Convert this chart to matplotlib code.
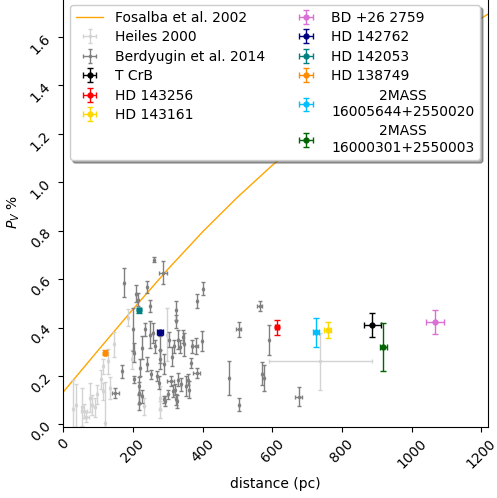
import numpy as np
from matplotlib import pyplot as plt

# Fosalba et al. 2002 relation, read along distance
fos_d = [0, 100, 200, 300, 400, 500, 600, 700, 800, 900, 1000, 1100, 1230]
fos_p = [0.133, 0.305, 0.475, 0.64, 0.795, 0.938, 1.07, 1.192, 1.306, 1.406,
         1.501, 1.591, 1.704]

# Heiles 2000 catalogue stars
heiles_d = [27, 38, 53, 60, 67, 77, 83, 91, 98, 110, 115, 120, 134, 113, 146,
            128, 185, 198, 232, 278, 278, 299, 738]
heiles_p = [0.062, 0.078, 0.072, 0.055, 0.03, 0.11, 0.08, 0.07, 0.124, 0.186,
            0.137, 0.005, 0.15, 0.24, 0.33, 0.26, 0.44, 0.268, 0.075, 0.062,
            0.11, 0.371, 0.26]
heiles_ed = [0, 0, 0, 8, 8, 0, 0, 0, 0, 0, 0, 0, 0, 0, 0, 0, 0, 0, 0, 0, 0, 0, 147]
heiles_ep = [0.12, 0.087, 0.079, 0.03, 0.02, 0.06, 0.04, 0.04, 0.04, 0.04,
             0.035, 0.17, 0.045, 0.03, 0.05, 0.05, 0.035, 0.04, 0.035, 0.035,
             0.05, 0.11, 0.118]

# Berdyugin et al. 2014 stars
berd_d = [261, 287, 175, 242, 210, 215, 249, 400, 385, 324, 323, 201, 235, 249,
          259, 226, 263, 278, 319, 330, 335, 345, 347, 369, 380, 397, 203, 220,
          168, 203, 150, 217, 225, 218, 251, 268, 278, 275, 288, 292, 302, 309,
          321, 327, 330, 337, 352, 359, 368, 383, 504, 504, 476, 564, 590, 570,
          577, 676, 290, 316, 325, 361, 240, 218, 305, 313]
berd_p = [0.68, 0.626, 0.584, 0.568, 0.54, 0.515, 0.49, 0.56, 0.508, 0.471,
          0.426, 0.392, 0.392, 0.371, 0.378, 0.316, 0.323, 0.309, 0.323, 0.35,
          0.32, 0.362, 0.33, 0.323, 0.323, 0.344, 0.296, 0.234, 0.22, 0.186,
          0.13, 0.13, 0.117, 0.09, 0.206, 0.2, 0.268, 0.172, 0.25, 0.096, 0.124,
          0.179, 0.144, 0.096, 0.185, 0.165, 0.158, 0.185, 0.254, 0.213, 0.392,
          0.082, 0.19, 0.488, 0.35, 0.21, 0.193, 0.115, 0.103, 0.137, 0.103,
          0.144, 0.25, 0.16, 0.35, 0.28]
berd_ed = [0, 11, 0, 0, 0, 0, 0, 0, 0, 0, 0, 0, 0, 0, 0, 0, 0, 0, 0, 0, 0, 0,
           0, 0, 8, 0, 0, 0, 0, 0, 11, 0, 0, 0, 0, 0, 0, 0, 0, 0, 0, 10, 0, 0,
           0, 0, 0, 0, 0, 11, 7, 0, 0, 7, 0, 0, 0, 10, 0, 0, 0, 0, 0, 0, 0, 0]
berd_ep = [0.011, 0.048, 0.06, 0.025, 0.035, 0.027, 0.024, 0.027, 0.029, 0.038,
           0.027, 0.09, 0.027, 0.055, 0.04, 0.048, 0.027, 0.055, 0.027, 0.038,
           0.027, 0.027, 0.048, 0.027, 0.034, 0.041, 0.038, 0.034, 0.027, 0.014,
           0.02, 0.045, 0.027, 0.03, 0.02, 0.02, 0.041, 0.027, 0.041, 0.02, 0.02,
           0.02, 0.024, 0.027, 0.027, 0.027, 0.041, 0.024, 0.02, 0.02, 0.03,
           0.026, 0.07, 0.02, 0.062, 0.049, 0.054, 0.04, 0.014, 0.024, 0.024,
           0.034, 0.03, 0.035, 0.03, 0.04]

# Individual field stars
star_names = ["T CrB", "HD 143256", "HD 143161", "BD +26 2759", "HD 142762",
              "HD 142053", "HD 138749", "2MASS\n16005644+2550020",
              "2MASS\n16000301+2550003"]
star_d = [887, 614, 759, 1066, 278, 217, 120, 725, 919]
star_p = [0.411, 0.401, 0.39, 0.422, 0.381, 0.471, 0.296, 0.381, 0.32]
star_ed = [25, 5, 10, 26, 8, 5, 3, 8, 11]
star_ep = [0.05, 0.03, 0.032, 0.05, 0.01, 0.01, 0.01, 0.06, 0.10]
star_colors = ["black", "red", "gold", "orchid", "navy", "teal", "darkorange",
               "deepskyblue", "darkgreen"]

fig, ax = plt.subplots(figsize=(4.97, 4.98), dpi=100)
fig.subplots_adjust(left=0.127, right=0.982, bottom=0.143, top=1.004)

ax.plot(fos_d, fos_p, color="orange", lw=1, label="Fosalba et al. 2002")
ax.errorbar(heiles_d, heiles_p, xerr=heiles_ed, yerr=heiles_ep, fmt=".",
            ms=3, color="lightgrey", capsize=1.5, lw=1, label="Heiles 2000")
ax.errorbar(berd_d, berd_p, xerr=berd_ed, yerr=berd_ep, fmt=".", ms=3,
            color="grey", capsize=1.5, lw=1, label="Berdyugin et al. 2014")
for name, d, p, ed, ep, c in zip(star_names, star_d, star_p, star_ed,
                                 star_ep, star_colors):
    ax.errorbar(d, p, xerr=ed, yerr=ep, fmt="o", ms=3.5, color=c,
                capsize=2, lw=1, label=name)

ax.set_xlim(0, 1219)
ax.set_ylim(-0.01, 1.761)
ax.set_xlabel("distance (pc)")
ax.set_ylabel("$P_V$ %")
plt.setp(ax.get_xticklabels(), rotation=45)
plt.setp(ax.get_yticklabels(), rotation=45)

leg = ax.legend(loc="upper left", ncol=2, shadow=True, labelspacing=0.4)
for t in leg.get_texts():
    t.set_multialignment("center")

fig.savefig("out.png")
